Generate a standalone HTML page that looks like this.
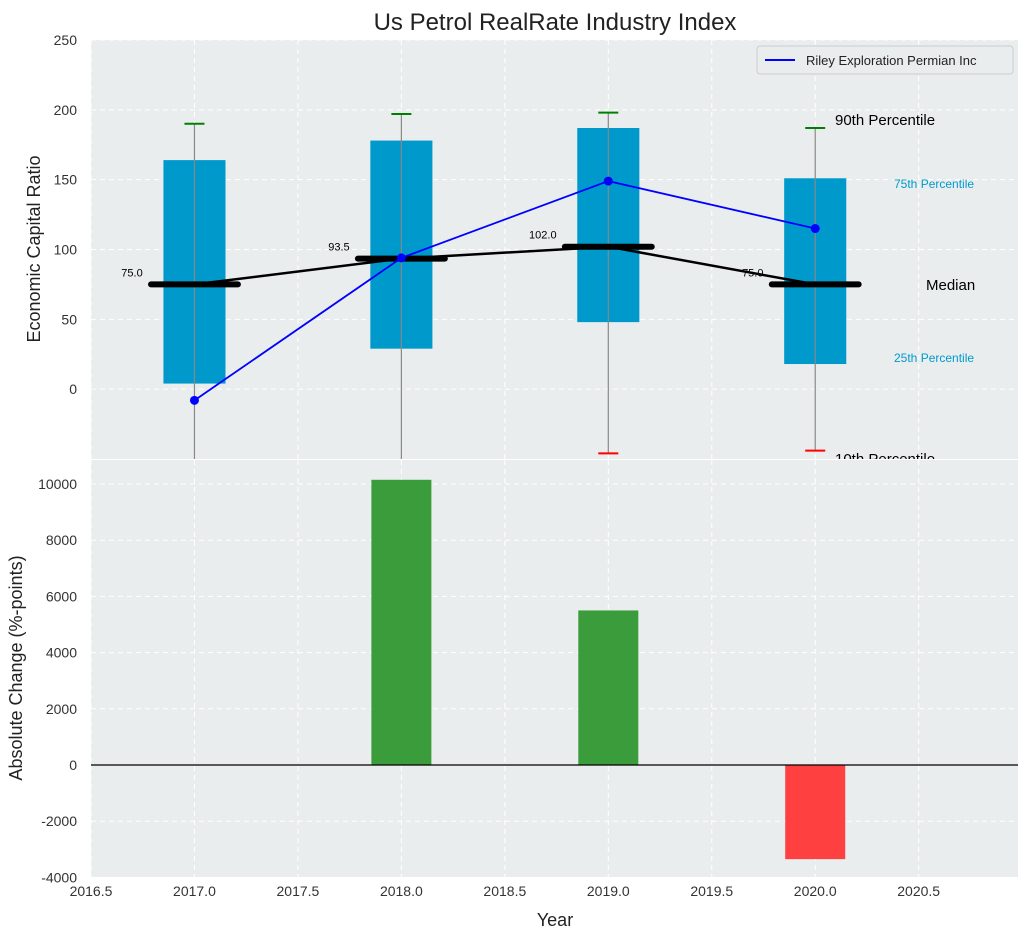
<!DOCTYPE html>
<html><head><meta charset="utf-8"><style>
body{margin:0;background:#fff;}
svg{font-family:"Liberation Sans",sans-serif;}
</style></head><body>
<svg width="1029" height="940" xmlns="http://www.w3.org/2000/svg" id="chart">
<text x="555" y="30" font-size="24" text-anchor="middle" fill="#222">Us Petrol RealRate Industry Index</text>
<g id="topPanel"></g>
<g id="botPanel"></g>
<text x="555" y="926" font-size="18" text-anchor="middle" fill="#222">Year</text>
<text transform="translate(40,249) rotate(-90)" font-size="18" text-anchor="middle" fill="#222">Economic Capital Ratio</text>
<text transform="translate(22,668) rotate(-90)" font-size="18" text-anchor="middle" fill="#222">Absolute Change (%-points)</text>
</svg>
<script>
const years=[2017,2018,2019,2020];
const p10=[-80,-80,-46,-44];
const q1=[4,29,48,18];
const medians=[75,93.5,102,75];
const q3=[164,178,187,151];
const p90=[190,197,198,187];
const company=[-8,94,149,115];
const changes=[0,10150,5500,-3350];
const topTicks=[0,50,100,150,200,250];
const botTicks=[-4000,-2000,0,2000,4000,6000,8000,10000];
const xTicks=[2016.5,2017,2017.5,2018,2018.5,2019,2019.5,2020,2020.5];

const NS="http://www.w3.org/2000/svg";
const L=91,R=1018;
const X=v=>L+(v-2016.5)*(R-L)/(2020.98-2016.5);
const TT=40,TB=459,YT=v=>TT+(250-v)*(TB-TT)/300;
const BT=460,BB=877,YB=v=>765-v*281/10000;
function mk(p,t,a){const e=document.createElementNS(NS,t);for(const k in a)e.setAttribute(k,a[k]);p.appendChild(e);return e;}
const svg=document.getElementById('chart');
const topG=document.getElementById('topPanel'),botG=document.getElementById('botPanel');
const defs=mk(svg,'defs',{});
const c1=mk(defs,'clipPath',{id:'ct'});mk(c1,'rect',{x:L,y:TT,width:R-L,height:TB-TT});
const c2=mk(defs,'clipPath',{id:'cb'});mk(c2,'rect',{x:L,y:BT,width:R-L,height:BB-BT});

let bg=mk(topG,'rect',{x:L,y:TT,width:R-L,height:TB-TT,fill:'#eaedee'});


const tg=mk(topG,'g',{'clip-path':'url(#ct)'});
xTicks.forEach(t=>mk(tg,'line',{x1:X(t),x2:X(t),y1:TT,y2:TB,stroke:'#fff','stroke-dasharray':'5,4'}));
topTicks.forEach(t=>{mk(tg,'line',{x1:L,x2:R,y1:YT(t),y2:YT(t),stroke:'#fff','stroke-dasharray':'5,4'});
 const e=mk(topG,'text',{x:L-14,y:YT(t)+5,'font-size':14,'text-anchor':'end',fill:'#333'});e.textContent=t;
 
 });
years.forEach((y,i)=>{
 const b=mk(tg,'rect',{x:X(y-0.15),y:YT(q3[i]),width:X(y+0.15)-X(y-0.15),height:YT(q1[i])-YT(q3[i]),fill:'#0099cc'});
 
 
 const w=mk(tg,'line',{x1:X(y),x2:X(y),y1:YT(p10[i]),y2:YT(p90[i]),stroke:'#888','stroke-width':1.2});
 
 
 mk(tg,'line',{x1:X(y)-10,x2:X(y)+10,y1:YT(p90[i]),y2:YT(p90[i]),stroke:'green','stroke-width':2});
 mk(tg,'line',{x1:X(y)-10,x2:X(y)+10,y1:YT(p10[i]),y2:YT(p10[i]),stroke:'red','stroke-width':2});
});
let mp='';years.forEach((y,i)=>mp+=(i?'L':'M')+X(y)+','+YT(medians[i]));
let ml=mk(tg,'path',{d:mp,stroke:'#000','stroke-width':2.5,fill:'none'});


years.forEach((y,i)=>{
 const m=mk(tg,'line',{x1:X(y-0.21),x2:X(y+0.21),y1:YT(medians[i]),y2:YT(medians[i]),stroke:'#000','stroke-width':6,'stroke-linecap':'round'});
 
 
 const t=mk(tg,'text',{x:X(y-0.25),y:YT(medians[i])-8,'font-size':11,'text-anchor':'end',fill:'#000'});t.textContent=medians[i].toFixed(1);
 
 
});
let cp='';years.forEach((y,i)=>cp+=(i?'L':'M')+X(y)+','+YT(company[i]));
let cl=mk(tg,'path',{d:cp,stroke:'blue','stroke-width':1.8,fill:'none'});


years.forEach((y,i)=>{const c=mk(tg,'circle',{cx:X(y),cy:YT(company[i]),r:4.5,fill:'blue'});
 
 });
const ann=[['90th Percentile',835,125,15,'#000'],['75th Percentile',894,188,12,'#0099cc'],['Median',926,290,15,'#000'],['25th Percentile',894,362,12,'#0099cc'],['10th Percentile',835,464,15,'#000']];
ann.forEach(a=>{const t=mk(tg,'text',{x:a[1],y:a[2],'font-size':a[3],fill:a[4]});t.textContent=a[0];
 
 });
const lg=mk(topG,'g',{});


mk(lg,'rect',{x:757,y:46,width:256,height:28,fill:'#eaedee',stroke:'#ccc',rx:3});
mk(lg,'line',{x1:765,x2:795,y1:60,y2:60,stroke:'blue','stroke-width':2});
let lt=mk(lg,'text',{x:806,y:65,'font-size':13,fill:'#222'});lt.textContent='Riley Exploration Permian Inc';

bg=mk(botG,'rect',{x:L,y:BT,width:R-L,height:BB-BT,fill:'#eaedee'});


const bg2=mk(botG,'g',{'clip-path':'url(#cb)'});
xTicks.forEach(t=>{mk(bg2,'line',{x1:X(t),x2:X(t),y1:BT,y2:BB,stroke:'#fff','stroke-dasharray':'5,4'});
 const e=mk(botG,'text',{x:X(t),y:BB+19,'font-size':14,'text-anchor':'middle',fill:'#333'});e.textContent=t.toFixed(1);
 
 });
botTicks.forEach(t=>{mk(bg2,'line',{x1:L,x2:R,y1:YB(t),y2:YB(t),stroke:'#fff','stroke-dasharray':'5,4'});
 const e=mk(botG,'text',{x:L-14,y:YB(t)+5,'font-size':14,'text-anchor':'end',fill:'#333'});e.textContent=t;
 
 });
years.forEach((y,i)=>{const v=changes[i];if(!v)return;
 const b=mk(bg2,'rect',{x:X(y-0.145),width:X(y+0.145)-X(y-0.145),y:Math.min(YB(v),YB(0)),height:Math.abs(YB(v)-YB(0)),fill:v>0?'#3a9c3a':'#ff4040'});
 
 });
mk(bg2,'line',{x1:L,x2:R,y1:YB(0),y2:YB(0),stroke:'#000','stroke-width':1.2});
</script>
</body></html>
